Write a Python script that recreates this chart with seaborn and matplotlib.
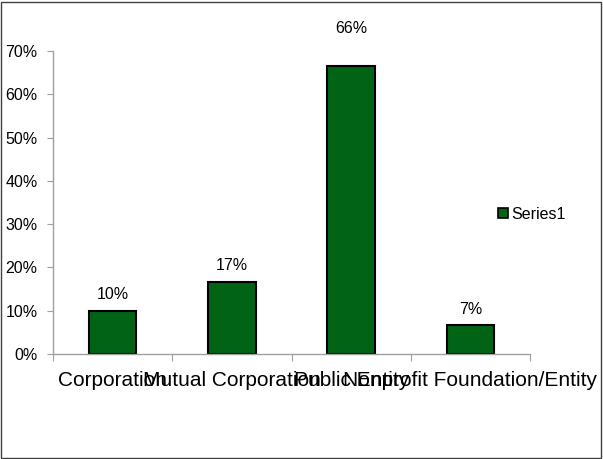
import matplotlib
matplotlib.use("Agg")
import matplotlib.pyplot as plt
import seaborn as sns
import pandas as pd
from matplotlib.patches import Rectangle
from matplotlib.lines import Line2D

categories = ["Corporation", "Mutual Corporation", "Public Entity",
              "Nonprofit Foundation/Entity"]
values = [0.10, 0.167, 0.665, 0.067]
labels = ["10%", "17%", "66%", "7%"]
y_ticks = [0, 0.1, 0.2, 0.3, 0.4, 0.5, 0.6, 0.7]
y_tick_labels = ["0%", "10%", "20%", "30%", "40%", "50%", "60%", "70%"]

sns.set_style("white")
plt.rcParams["font.family"] = ["Liberation Sans", "DejaVu Sans"]
plt.rcParams["text.color"] = "black"
plt.rcParams["xtick.labelcolor"] = "black"
plt.rcParams["ytick.labelcolor"] = "black"

green = "#006414"
df = pd.DataFrame({"Category": categories, "Value": values})

fig = plt.figure(figsize=(6.03, 4.59), dpi=100)
ax = fig.add_axes([53 / 603, 1 - 354 / 459, 477 / 603, 303 / 459])

sns.barplot(data=df, x="Category", y="Value", ax=ax, color=green,
            width=0.4, edgecolor="black", linewidth=1.5, saturation=1)

ax.set_ylim(0, 0.7)
ax.set_xlim(-0.5, len(categories) - 0.5)
ax.set_yticks(y_ticks)
ax.set_yticklabels(y_tick_labels, fontsize=11.5, color="black")
# category boundary ticks (major) and centred labels (minor)
ax.set_xticks([i + 0.5 for i in range(-1, len(categories))], minor=False)
ax.set_xticklabels([])
ax.set_xticks(range(len(categories)), minor=True)
ax.set_xticklabels(categories, minor=True, fontsize=15, color="black")
ax.tick_params(axis="x", which="major", length=5, color="#a0a0a0",
               direction="out", bottom=True)
ax.tick_params(axis="x", which="minor", length=0, pad=12)
ax.tick_params(axis="y", length=4, color="#a0a0a0", direction="out",
               left=True, pad=7)
ax.set_xlabel("")
ax.set_ylabel("")

for side in ["top", "right"]:
    ax.spines[side].set_visible(False)
for side in ["left", "bottom"]:
    ax.spines[side].set_color("#a0a0a0")
    ax.spines[side].set_linewidth(1)

for i, (v, lab) in enumerate(zip(values, labels)):
    extra = 16 if v == max(values) else 0
    ax.annotate(lab, (i, v), xytext=(0, 6 + extra), textcoords="offset points",
                ha="center", va="bottom", fontsize=11.5, color="black",
                annotation_clip=False)

handle = Line2D([], [], marker="s", linestyle="none", markersize=7,
                markerfacecolor=green, markeredgecolor="black",
                markeredgewidth=1.2)
fig.legend([handle], ["Series1"], loc="center left",
           bbox_to_anchor=(489 / 603, 1 - 214 / 459), frameon=False,
           fontsize=11.5, handletextpad=0.1, borderpad=0, handlelength=0.8)

fig.patches.append(Rectangle((1 / 603, 1 / 459), 600 / 603, 456 / 459,
                             transform=fig.transFigure, fill=False,
                             edgecolor="#404040", linewidth=1))

fig.savefig("out.png", dpi=100)
